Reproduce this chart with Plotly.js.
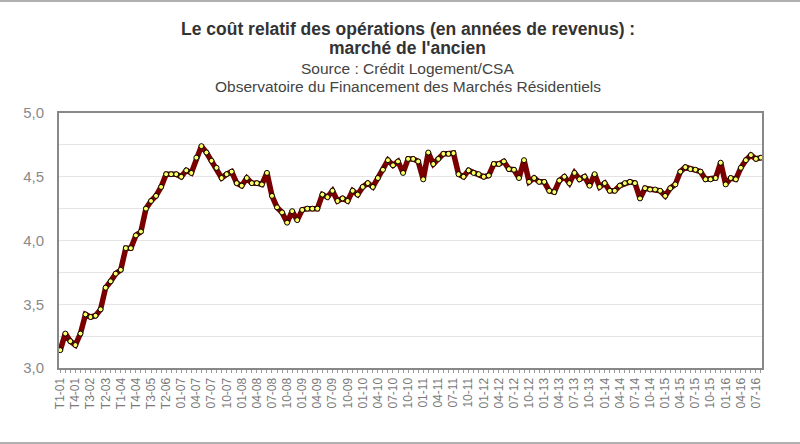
<!DOCTYPE html>
<html>
<head>
<meta charset="utf-8">
<script src="https://cdn.plot.ly/plotly-3.0.1.min.js"></script>
<style>
html,body{margin:0;padding:0;background:#fff;}
#frame{position:relative;width:800px;height:444px;box-sizing:border-box;border-top:2px solid #b0b0b0;border-bottom:2px solid #b0b0b0;}
#chart{position:absolute;left:0;top:-2px;width:800px;height:444px;}
</style>
</head>
<body>
<div id="frame"><div id="chart"></div></div>
<script>
var categories = [
"T1-01","T2-01","T3-01","T4-01","T1-02","T2-02","T3-02","T4-02",
"T1-03","T2-03","T3-03","T4-03","T1-04","T2-04","T3-04","T4-04",
"T1-05","T2-05","T3-05","T4-05","T1-06","T2-06","T3-06","T4-06",
"01-07","02-07","03-07","04-07","05-07","06-07","07-07","08-07","09-07","10-07","11-07","12-07",
"01-08","02-08","03-08","04-08","05-08","06-08","07-08","08-08","09-08","10-08","11-08","12-08",
"01-09","02-09","03-09","04-09","05-09","06-09","07-09","08-09","09-09","10-09","11-09","12-09",
"01-10","02-10","03-10","04-10","05-10","06-10","07-10","08-10","09-10","10-10","11-10","12-10",
"01-11","02-11","03-11","04-11","05-11","06-11","07-11","08-11","09-11","10-11","11-11","12-11",
"01-12","02-12","03-12","04-12","05-12","06-12","07-12","08-12","09-12","10-12","11-12","12-12",
"01-13","02-13","03-13","04-13","05-13","06-13","07-13","08-13","09-13","10-13","11-13","12-13",
"01-14","02-14","03-14","04-14","05-14","06-14","07-14","08-14","09-14","10-14","11-14","12-14",
"01-15","02-15","03-15","04-15","05-15","06-15","07-15","08-15","09-15","10-15","11-15","12-15",
"01-16","02-16","03-16","04-16","05-16","06-16","07-16","08-16"
];

var coutRelatif = [
3.14,3.27,3.21,3.18,3.27,3.42,3.40,3.41,3.46,3.63,3.68,3.74,3.77,3.94,3.94,4.04,
4.07,4.25,4.31,4.35,4.42,4.52,4.52,4.52,
4.50,4.55,4.53,4.65,4.74,4.69,4.625,4.57,4.49,4.52,4.54,4.45,
4.43,4.49,4.45,4.45,4.44,4.53,4.35,4.26,4.22,4.14,4.23,4.16,
4.24,4.25,4.25,4.25,4.36,4.34,4.39,4.31,4.33,4.31,4.39,4.36,
4.42,4.45,4.42,4.49,4.555,4.63,4.59,4.62,4.53,4.64,4.64,4.62,
4.48,4.69,4.60,4.64,4.68,4.68,4.685,4.52,4.50,4.55,4.53,4.52,
4.50,4.51,4.60,4.60,4.62,4.56,4.555,4.49,4.63,4.46,4.49,4.46,
4.46,4.39,4.38,4.47,4.50,4.45,4.53,4.48,4.50,4.43,4.52,4.42,
4.45,4.39,4.39,4.43,4.45,4.46,4.45,4.33,4.41,4.40,4.40,4.39,
4.35,4.41,4.44,4.54,4.575,4.56,4.555,4.54,4.48,4.48,4.49,4.61,
4.44,4.49,4.48,4.57,4.63,4.67,4.64,4.65
];

var yTickVals = [3.0,3.25,3.5,3.75,4.0,4.25,4.5,4.75,5.0];
var yTickText = ["3,0","","3,5","","4,0","","4,5","","5,0"];

var xTickText = categories.map(function(c,i){ return (i % 3 === 0) ? c : ""; });

var trace = {
  type: "scatter",
  mode: "lines+markers",
  x: categories,
  y: coutRelatif,
  line: {color: "#7a0000", width: 5.5},
  marker: {color: "#ffff66", size: 5, line: {color: "#000", width: 1}},
  hoverinfo: "x+y"
};

var titleFont = "Liberation Sans, Arial, sans-serif";

var layout = {
  width: 800, height: 444,
  margin: {l: 59, r: 38, t: 113, b: 76},
  paper_bgcolor: "rgba(0,0,0,0)",
  plot_bgcolor: "#fff",
  showlegend: false,
  font: {family: titleFont, color: "#777"},
  xaxis: {
    type: "category",
    range: [-0.25, 139.2],
    tickmode: "array",
    tickvals: categories,
    ticktext: xTickText,
    tickangle: -90,
    ticks: "outside",
    ticklen: 3,
    tickcolor: "#999",
    tickfont: {size: 12, color: "#7a7a7a", family: titleFont},
    showgrid: false,
    showline: true, linecolor: "#888", linewidth: 2, mirror: true,
    zeroline: false,
    automargin: false
  },
  yaxis: {
    range: [3.0, 5.0],
    tickmode: "array",
    tickvals: yTickVals,
    ticktext: yTickText,
    ticks: "",
    ticklabelstandoff: 10,
    tickfont: {size: 15, color: "#8a8a8a", family: titleFont},
    showgrid: true, gridcolor: "#e4e4e4", gridwidth: 1,
    showline: true, linecolor: "#888", linewidth: 2, mirror: true,
    zeroline: false,
    automargin: false
  },
  annotations: [
    {text: "<b>Le coût relatif des opérations (en années de revenus) :</b>", xref: "paper", yref: "paper", x: 0.496, y: 1, yshift: 84, xanchor: "center", yanchor: "middle", showarrow: false, font: {size: 17.5, color: "#333", family: titleFont}},
    {text: "<b>marché de l'ancien</b>", xref: "paper", yref: "paper", x: 0.496, y: 1, yshift: 65, xanchor: "center", yanchor: "middle", showarrow: false, font: {size: 17.5, color: "#333", family: titleFont}},
    {text: "Source : Crédit Logement/CSA", xref: "paper", yref: "paper", x: 0.496, y: 1, yshift: 45, xanchor: "center", yanchor: "middle", showarrow: false, font: {size: 15.5, color: "#444", family: titleFont}},
    {text: "Observatoire du Financement des Marchés Résidentiels", xref: "paper", yref: "paper", x: 0.496, y: 1, yshift: 27, xanchor: "center", yanchor: "middle", showarrow: false, font: {size: 15.5, color: "#444", family: titleFont}}
  ]
};

Plotly.newPlot("chart", [trace], layout, {displayModeBar: false, staticPlot: true});
</script>
</body>
</html>
